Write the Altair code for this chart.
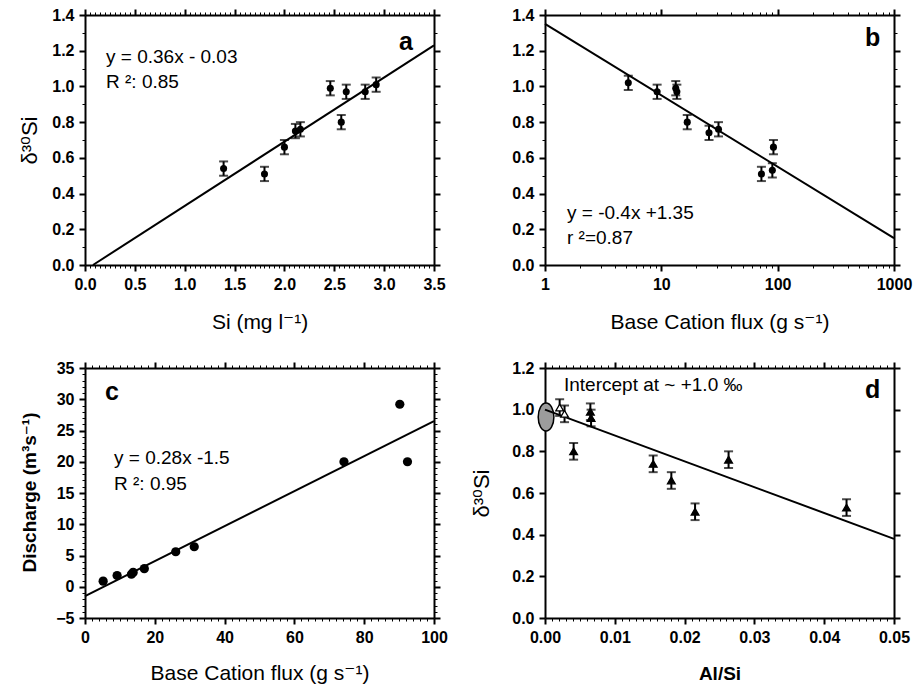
import altair as alt
import pandas as pd

FONT = "Liberation Sans, Arial, DejaVu Sans, sans-serif"

# ---------------- panel a : d30Si vs Si concentration
a_si = [1.39, 1.80, 2.00, 2.11, 2.16, 2.46, 2.57, 2.62, 2.81, 2.92]
a_d30 = [0.54, 0.51, 0.66, 0.75, 0.76, 0.99, 0.80, 0.97, 0.97, 1.01]
a_err = [0.04, 0.04, 0.04, 0.04, 0.04, 0.04, 0.04, 0.04, 0.04, 0.04]
a_fit_x = [0.08, 3.5]
a_fit_y = [0.0, 1.23]
a_xticks = [0.0, 0.5, 1.0, 1.5, 2.0, 2.5, 3.0, 3.5]
a_yticks = [0.0, 0.2, 0.4, 0.6, 0.8, 1.0, 1.2, 1.4]
a_text = ["y = 0.36x - 0.03", "R \u00b2: 0.85"]

# ---------------- panel b : d30Si vs base cation flux (log)
b_flux = [5.2, 9.2, 13.3, 13.6, 16.7, 25.7, 31.0, 72.5, 90.0, 92.0]
b_d30 = [1.02, 0.97, 0.99, 0.97, 0.80, 0.74, 0.76, 0.51, 0.53, 0.66]
b_err = [0.04, 0.04, 0.04, 0.04, 0.04, 0.04, 0.04, 0.04, 0.04, 0.04]
b_fit_x = [1, 1000]
b_fit_y = [1.35, 0.15]
b_xticks = [1, 10, 100, 1000]
b_xminor = [2, 3, 4, 5, 6, 7, 8, 9, 20, 30, 40, 50, 60, 70, 80, 90,
            200, 300, 400, 500, 600, 700, 800, 900]
b_yticks = a_yticks
b_text = ["y = -0.4x +1.35", "r \u00b2=0.87"]

# ---------------- panel c : discharge vs base cation flux
c_flux = [5.2, 9.2, 13.3, 13.8, 17.0, 26.0, 31.3, 74.2, 90.2, 92.4]
c_q = [0.9, 1.8, 2.0, 2.3, 2.9, 5.6, 6.4, 20.0, 29.2, 20.0]
c_fit_x = [0, 100]
c_fit_y = [-1.5, 26.5]
c_xticks = [0, 20, 40, 60, 80, 100]
c_yticks = [-5, 0, 5, 10, 15, 20, 25, 30, 35]
c_text = ["y = 0.28x -1.5", "R \u00b2: 0.95"]

# ---------------- panel d : d30Si vs Al/Si
d_alsi = [0.0021, 0.0028, 0.0041, 0.0065, 0.0066, 0.0155, 0.0181, 0.0215, 0.0263, 0.0432]
d_d30 = [1.01, 0.98, 0.80, 0.99, 0.96, 0.74, 0.66, 0.51, 0.76, 0.53]
d_err = [0.04, 0.04, 0.04, 0.04, 0.04, 0.04, 0.04, 0.04, 0.04, 0.04]
d_kind = ["open", "open", "filled", "filled", "filled", "filled", "filled", "filled", "filled", "filled"]
d_fit_x = [0.0, 0.05]
d_fit_y = [1.0, 0.38]
d_ell_x = [0.00015]
d_ell_y = [0.965]
d_xticks = [0.0, 0.01, 0.02, 0.03, 0.04, 0.05]
d_yticks = [0.0, 0.2, 0.4, 0.6, 0.8, 1.0, 1.2]
d_text = ["Intercept at  ~ +1.0 \u2030"]

W, H = 349, 250


def steps(lo, hi, step, majors, nd=6):
    n = int(round((hi - lo) / step))
    vals = [round(lo + i * step, nd) for i in range(n + 1)]
    return [v for v in vals if min(abs(v - m) for m in majors) > step / 10]


def major_axis(orient, majors, fmt, labels=True, title=None, tx=None, ty=None,
               tweight="normal", tsize=21):
    kw = dict(orient=orient, values=majors, grid=False, domain=True,
              domainColor="black", domainWidth=2,
              tickColor="black", tickSize=6, tickWidth=2)
    if labels:
        kw.update(format=fmt, labelFont=FONT, labelFontSize=16, labelFontWeight="bold",
                  labelColor="black", labelPadding=5, labelOverlap=False,
                  labelFlush=False, labelBound=False)
    else:
        kw.update(labels=False)
    if title:
        kw.update(title=title, titleFont=FONT, titleFontSize=tsize, titleFontWeight=tweight,
                  titleColor="black", titleX=tx, titleY=ty, titleAlign="center",
                  titleBaseline="middle")
        if orient == "left":
            kw.update(titleAngle=270)
    else:
        kw.update(title=None)
    return alt.Axis(**kw)


def minor_axis(orient, minors):
    return alt.Axis(orient=orient, values=minors, grid=False, domain=False, labels=False,
                    tickColor="black", tickSize=3, tickWidth=1, title=None)


def text_layer(txt, x, y, size=19, weight="normal"):
    return alt.Chart(pd.DataFrame({"t": [txt]})).mark_text(
        align="left", baseline="middle", font=FONT, fontSize=size,
        fontWeight=weight, color="black"
    ).encode(x=alt.value(x), y=alt.value(y), text="t:N")


def build(px, py, err, fx, fy, sx, sy, major, minor, point_mark, extra=None,
          errbars=True, kind=None):
    ax_b, ax_l, ax_t, ax_r = major
    mi_b, mi_l, mi_t, mi_r = minor
    fdf = pd.DataFrame({"x": fx, "y": fy})
    fit = alt.Chart(fdf).mark_line(color="black", strokeWidth=2).encode(
        x=alt.X("x:Q", scale=sx, axis=ax_t),
        y=alt.Y("y:Q", scale=sy, axis=ax_r),
    )
    ghost1 = alt.Chart(fdf).mark_point(opacity=0).encode(
        x=alt.X("x:Q", scale=sx, axis=mi_b),
        y=alt.Y("y:Q", scale=sy, axis=mi_l),
    )
    ghost2 = alt.Chart(fdf).mark_point(opacity=0).encode(
        x=alt.X("x:Q", scale=sx, axis=mi_t),
        y=alt.Y("y:Q", scale=sy, axis=mi_r),
    )
    df = pd.DataFrame({"x": px, "y": py})
    if err is not None:
        df["lo"] = [v - e for v, e in zip(py, err)]
        df["hi"] = [v + e for v, e in zip(py, err)]
    if kind is not None:
        df["kind"] = kind
    layers = []
    if extra is not None:
        layers.append(extra)
    layers += [fit, ghost1, ghost2]
    if errbars:
        eb = alt.Chart(df).mark_errorbar(ticks=True, size=9, thickness=2, color="black").encode(
            x=alt.X("x:Q", scale=sx, axis=None),
            y=alt.Y("lo:Q", scale=sy, axis=None),
            y2="hi:Q",
        )
        layers.append(eb)
    enc = dict(
        x=alt.X("x:Q", scale=sx, axis=ax_b),
        y=alt.Y("y:Q", scale=sy, axis=ax_l),
    )
    if kind is not None:
        enc["fill"] = alt.Fill("kind:N", scale=alt.Scale(domain=["open", "filled"],
                                                         range=["white", "black"]), legend=None)
    pts = alt.Chart(df).mark_point(**point_mark).encode(**enc)
    layers.append(pts)
    return layers


circle = dict(shape="circle", filled=True, size=50, color="black", opacity=1)

# ---------- panel a
sxa = alt.Scale(domain=[0, 3.5], nice=False, zero=False)
sya = alt.Scale(domain=[0, 1.4], nice=False, zero=False)
a_xmin = steps(0, 3.5, 0.05, a_xticks)
a_ymin = steps(0, 1.4, 0.1, a_yticks)
la = build(
    a_si, a_d30, a_err, a_fit_x, a_fit_y, sxa, sya,
    (major_axis("bottom", a_xticks, ".1f", title="Si (mg l\u207b\u00b9)", tx=W / 2, ty=57),
     major_axis("left", a_yticks, ".1f", title="\u03b4\u00b3\u2070Si", tx=-56, ty=H / 2, tsize=22),
     major_axis("top", a_xticks, ".1f", labels=False),
     major_axis("right", a_yticks, ".1f", labels=False)),
    (minor_axis("bottom", a_xmin), minor_axis("left", a_ymin),
     minor_axis("top", a_xmin), minor_axis("right", a_ymin)),
    circle)
la += [text_layer(a_text[0], 21, 42), text_layer(a_text[1], 21, 67),
       text_layer("a", 314, 27, size=25, weight="bold")]
pa = alt.layer(*la).resolve_axis(x="independent", y="independent").properties(width=W, height=H)

# ---------- panel b
sxb = alt.Scale(type="log", domain=[1, 1000], nice=False)
syb = alt.Scale(domain=[0, 1.4], nice=False, zero=False)
lb = build(
    b_flux, b_d30, b_err, b_fit_x, b_fit_y, sxb, syb,
    (major_axis("bottom", b_xticks, "d", title="Base Cation flux (g s\u207b\u00b9)", tx=W / 2, ty=57),
     major_axis("left", b_yticks, ".1f"),
     major_axis("top", b_xticks, "d", labels=False),
     major_axis("right", b_yticks, ".1f", labels=False)),
    (minor_axis("bottom", b_xminor), minor_axis("left", a_ymin),
     minor_axis("top", b_xminor), minor_axis("right", a_ymin)),
    circle)
lb += [text_layer(b_text[0], 22, 198), text_layer(b_text[1], 22, 223),
       text_layer("b", 320, 23, size=25, weight="bold")]
pb = alt.layer(*lb).resolve_axis(x="independent", y="independent").properties(width=W, height=H)

# ---------- panel c
sxc = alt.Scale(domain=[0, 100], nice=False, zero=False)
syc = alt.Scale(domain=[-5, 35], nice=False, zero=False)
c_xmin = steps(0, 100, 2, c_xticks)
c_ymin = steps(-5, 35, 1, c_yticks)
big = dict(shape="circle", filled=True, size=85, color="black", opacity=1)
lc = build(
    c_flux, c_q, None, c_fit_x, c_fit_y, sxc, syc,
    (major_axis("bottom", c_xticks, "d", title="Base Cation flux (g s\u207b\u00b9)", tx=W / 2, ty=55),
     major_axis("left", c_yticks, "d", title="Discharge (m\u00b3s\u207b\u00b9)", tx=-56, ty=124,
                tweight="bold", tsize=19),
     major_axis("top", c_xticks, "d", labels=False),
     major_axis("right", c_yticks, "d", labels=False)),
    (minor_axis("bottom", c_xmin), minor_axis("left", c_ymin),
     minor_axis("top", c_xmin), minor_axis("right", c_ymin)),
    big, errbars=False)
lc += [text_layer(c_text[0], 29, 90), text_layer(c_text[1], 29, 116),
       text_layer("c", 20, 24, size=25, weight="bold")]
pc = alt.layer(*lc).resolve_axis(x="independent", y="independent").properties(width=W, height=H)

# ---------- panel d
sxd = alt.Scale(domain=[0, 0.05], nice=False, zero=False)
syd = alt.Scale(domain=[0, 1.2], nice=False, zero=False)
d_xmin = steps(0, 0.05, 0.001, d_xticks)
ellipse = alt.Chart(pd.DataFrame({"x": d_ell_x, "y": d_ell_y})).mark_point(
    shape="M-0.56,0 A0.56,1 0 1,0 0.56,0 A0.56,1 0 1,0 -0.56,0 Z",
    size=784, filled=True, fill="#9c9c9c", stroke="black", strokeWidth=1.5,
    opacity=1, fillOpacity=1, strokeOpacity=1,
).encode(
    x=alt.X("x:Q", scale=sxd, axis=None),
    y=alt.Y("y:Q", scale=syd, axis=None),
)
tri = dict(shape="triangle-up", filled=True, size=60, stroke="black", strokeWidth=1.3, opacity=1)
ld = build(
    d_alsi, d_d30, d_err, d_fit_x, d_fit_y, sxd, syd,
    (major_axis("bottom", d_xticks, ".2f", title="Al/Si", tx=W / 2, ty=55, tweight="bold", tsize=19),
     major_axis("left", d_yticks, ".1f", title="\u03b4\u00b3\u2070Si", tx=-64, ty=H / 2, tsize=22),
     major_axis("top", d_xticks, ".2f", labels=False),
     major_axis("right", d_yticks, ".1f", labels=False)),
    (minor_axis("bottom", d_xmin), None, minor_axis("top", d_xmin), None),
    tri, extra=ellipse, kind=d_kind)
ld += [text_layer(d_text[0], 19, 17), text_layer("d", 320, 22, size=25, weight="bold")]
pd_ = alt.layer(*ld).resolve_axis(x="independent", y="independent").properties(width=W, height=H)

chart = alt.concat(pa, pb, pc, pd_, columns=2, spacing={"row": 103, "column": 111},
                   bounds="flush").properties(
    padding={"left": 17, "top": 6, "right": 0, "bottom": 0},
    background="white",
).configure_view(strokeWidth=0).configure(font=FONT)

chart.save("out.html", embed_options={"renderer": "svg", "actions": False})
